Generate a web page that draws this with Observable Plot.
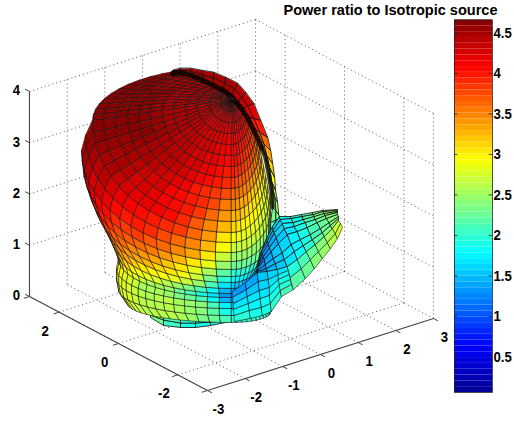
<!DOCTYPE html>
<html>
<head>
<meta charset="utf-8">
<script src="https://cdn.jsdelivr.net/npm/d3@7"></script>
<script src="https://cdn.jsdelivr.net/npm/@observablehq/plot@0.6"></script>
<style>
html,body{margin:0;padding:0;background:#fff}
#chart{position:relative;width:514px;height:421px;overflow:hidden}
#chart svg{position:absolute;top:0;background:transparent}
</style>
</head>
<body>
<div id="chart"></div>
<script>
const titleText = "Power ratio to Isotropic source";
const xTicks = [-3,-2,-1,0,1,2,3];
const yTicks = [-2,0,2];
const zTicks = [0,1,2,3,4];
const colorTicks = [0.5,1,1.5,2,2.5,3,3.5,4,4.5];
const colorRange = [0.06,4.66];

// Axis box: view-plane position of the data origin and of one data unit
const viewOrigin = [231,307];
const xUnit = [37.67,-12];
const yUnit = [-29.67,-15.67];
const zUnit = [0,-51.25];

// Latitude rings of the pattern, in view-plane units
const ringCenterX = 231;
const ringFront = [100,111,122,133,144,155,166,177,188,199,210,221,232,242,252,261,269,276,282,288,293,297,302,308,315,322];
const ringLeftX  = [232,220,209,197,185,173,162,150,138,127,115,103,92,85,81,83,88,94,102,110,116,118,116,116,118,127];
const ringLeftY  = [100,102,103,105,107,109,110,112,114,115,117,119,120,135,150,166,182,198,215,234,250,258,268,278,289,303];
const ringRightX = [232,238,243,246,249,252,255,257,259,261,263,265,267,269,270,270,268,264,260,258,258,260,263,266,268,270];
const ringRightY = [100,102,106,112,118,126,133,139,147,156,165,175,185,196,208,222,238,250,258,264,270,276,282,290,300,312];
const ringBackRise = [0,11,14,20,25,30,33,37,41,44,47,51,54];
const ringAngles = [246,240,234,228,222,216,210,204,198,192,186,
  180,174,168,162,156,150,144,138,132,126,120,114,108,102,96,90,
  82,74,66,58,50,42,34,26,18,10,0];

// Value (tenths) on the far side of rings 1..12
const ringBackValues = [
[43,43,43,43,43,43,43,43,43,43,43],
[44,44,44,44,44,44,44,44,44,44,44],
[44,44,44,44,44,44,44,44,44,44,44],
[45,45,45,45,45,45,45,45,45,45,45],
[45,45,45,45,45,45,45,45,45,45,45],
[45,45,45,45,45,45,45,45,45,45,45],
[45,45,45,45,45,46,46,46,46,46,46],
[45,45,45,45,45,46,46,46,46,46,46],
[45,45,45,45,46,46,46,46,46,46,46],
[45,45,45,46,46,46,46,46,46,46,46],
[45,45,46,46,46,46,46,46,46,46,46],
[45,45,46,46,46,46,46,46,46,46,46]];

// Value (tenths) on the near side of rings 1..25
const ringFrontValues = [
[43,43,43,43,43,43,43,43,43,43,43,42,42,42,42,42,42,42,42,42,41,41,41,41,41,41,41],
[44,44,44,44,44,44,44,43,43,43,43,43,43,42,42,42,42,42,42,42,41,41,41,41,41,41,41],
[44,44,44,44,44,44,44,43,43,43,43,43,43,42,42,42,42,41,41,41,41,41,40,40,40,40,40],
[45,45,45,45,45,44,44,44,44,43,43,43,42,42,41,41,41,41,40,40,40,40,39,39,39,39,39],
[45,45,45,45,45,44,44,44,44,43,43,43,42,42,41,41,41,40,40,40,39,39,39,38,38,38,38],
[45,45,45,45,45,44,44,44,43,43,43,42,42,41,41,40,40,40,39,38,38,38,38,37,37,37,37],
[46,46,46,46,45,45,45,44,44,43,43,42,41,40,40,39,39,38,38,37,37,37,37,36,36,36,36],
[46,46,46,46,45,45,44,44,43,43,42,41,40,40,39,38,37,37,36,36,35,35,35,34,34,34,34],
[46,46,46,46,45,45,44,43,43,42,41,40,39,38,37,36,35,35,34,34,33,33,33,32,32,32,32],
[46,46,46,45,45,44,44,43,43,42,41,41,40,39,36,34,33,33,32,32,31,31,31,30,30,30,30],
[46,46,46,45,45,44,43,42,42,42,41,40,38,37,34,32,32,31,31,30,30,30,29,29,29,29,29],
[46,46,46,45,45,44,43,42,42,41,40,40,38,36,33,30,30,29,29,29,29,29,28,28,28,28,28],
[45,45,45,44,43,43,42,41,40,40,39,38,36,35,32,28,28,28,28,27,27,27,27,27,27,27,27],
[44,44,44,43,42,42,41,39,39,39,37,36,35,33,30,26,26,26,26,26,26,26,26,26,26,26,26],
[43,43,43,42,41,41,39,38,38,37,36,35,33,31,28,24,24,24,24,24,24,24,24,24,24,24,24],
[41,41,41,40,39,38,37,36,35,35,33,32,30,28,25,21,21,21,21,21,21,22,22,22,22,22,22],
[40,40,40,39,38,37,36,35,34,33,32,31,29,26,23,19,19,19,19,19,19,19,19,19,19,19,19],
[38,38,38,37,36,35,34,32,32,31,29,29,27,25,20,16,16,16,16,15,15,15,15,15,15,15,15],
[35,35,35,34,33,32,31,30,29,28,27,27,25,22,18,14,14,14,14,13,13,13,13,13,13,13,13],
[32,32,32,31,30,29,28,27,26,26,24,22,20,18,15,12,12,12,12,13,13,13,13,13,13,13,13],
[30,30,30,29,28,28,27,25,25,25,23,21,20,18,15,12,12,13,13,13,13,13,14,14,14,14,14],
[29,29,29,28,28,27,26,25,26,26,25,25,24,22,18,14,14,14,15,15,15,15,16,16,16,16,16],
[29,29,29,28,28,27,27,26,26,27,26,26,25,24,20,17,17,17,17,18,18,18,18,18,18,18,18],
[28,28,28,28,27,27,26,26,26,26,26,25,24,23,21,19,19,19,19,20,20,20,20,20,20,20,20],
[28,28,28,28,27,27,27,26,26,26,26,25,24,23,22,21,21,21,21,21,21,21,21,21,21,21,21]];

// Thin strip behind the crest of the lobe
const crestX = [
[172,180,190,201,213,225,237,245,253,260,267,270,272,274,275,277,278,280,272],
[172,180,190,202,213,224,234,241,247,253,259,263,266,269,271,274,275,275,270],
[172,180,191,203,213,223,231,237,242,247,252,257,261,265,268,271,272,270,268]];
const crestY = [
[70,68,68,70,72,77,83,92,103,120,137,150,163,177,190,202,214,218,228],
[71,70,71,75,78,83,89,97,106,118,132,143,155,167,181,196,210,220,232],
[73,72,75,80,85,90,96,103,110,117,127,137,147,157,172,190,207,222,238]];
const crestRowValues = [45,45,45,45,45,45,44,44,43,41,38,35,32,30,28,26,24,22,20];
const crestValues = [crestRowValues,crestRowValues,crestRowValues];

// Underside sliver
const sliverX = [
[150,163,180,195,210,225,240],[150,163,180,195,210,225,240],[150,163,180,195,210,225,240]];
const sliverY = [
[312,316,318,319,319,319,318],[315,320,323,323,322,321,319],[317,325,327,327,325,322,320]];
const sliverValues = [
[26,23,20,19,19,19,20],[25,22,20,19,19,19,20],[24,21,19,19,19,19,20]];

// Fan of rows running from the valley to the side lobe's top edge
const fanX = [
[257,257,257,257,257,257,257,257],[261,261,262,263,264,265,266,267],[266,267,268,269,271,273,275,277],
[272,273,274,276,278,282,284,287],[279,280,282,284,287,291,294,297],[290,291,293,294,297,300,303,306],
[301,302,303,305,307,310,312,315],[312,313,314,315,317,320,322,324],[322,323,324,325,326,329,330,332],
[337,337,337,337,337,338,338,338]];
const fanY = [
[265,265,266,267,268,270,271,272],[250,251,253,256,259,264,268,271],[238,240,243,247,251,258,263,269],
[226,229,232,237,243,252,259,266],[216,219,223,228,234,244,251,259],[216,218,222,226,231,239,245,251],
[214,216,219,222,227,234,239,244],[212,214,216,219,222,228,232,236],[210,211,213,215,218,222,225,228],
[209,210,211,212,214,216,218,220]];
const fanValues = [
[12,12,12,12,12,13,13,13],[14,13,13,13,13,14,14,14],[14,14,14,14,14,15,15,15],[15,15,15,15,15,16,16,16],
[17,17,17,16,16,17,17,18],[19,19,18,18,18,18,18,19],[21,20,20,20,20,20,20,21],[24,23,23,22,22,22,22,23],
[25,25,24,24,23,23,24,25],[26,26,25,25,25,25,25,26]];

// Belt under the valley
const beltX = [
[232,232,233,233,234,234],[245,246,247,248,249,250],[257,258,259,260,261,262],
[267,268,269,269,270,271],[277,278,278,279,280,281],[287,288,289,290,291,293]];
const beltY = [
[291,297,303,309,315,321],[282,289,296,303,310,318],[272,281,290,298,307,315],
[271,279,287,295,303,311],[269,274,279,284,290,296],[266,270,274,279,284,289]];
const beltValues = [
[12,14,16,18,19,20],[13,14,16,17,19,20],[14,15,16,17,18,19],
[15,16,17,18,19,20],[16,17,18,19,20,21],[17,18,19,20,21,21]];

// Outer band of the side lobe
const rimX = [[287,290,293],[297,301,305],[306,310,314],[315,318,322],[324,327,330],[332,335,337],[338,340,342]];
const rimY = [[266,277,289],[259,268,278],[251,259,268],[244,251,258],[236,242,248],[228,233,238],[220,223,227]];
const rimValues = [[18,20,22],[20,21,23],[21,23,24],[23,24,25],[25,25,26],[26,27,27],[26,28,29]];

// Jet colormap
const jetPositions = [0,0.125,0.375,0.625,0.875,1];
const jetColors = ["#00008f","#0000ff","#00ffff","#ffff00","#ff0000","#800000"];
const levelCount = 64;

const [cMin,cMax] = colorRange;
const colorScale = {
  type:"linear", clamp:true, interpolate:"rgb",
  domain: jetPositions.map(t=>cMin+t*(cMax-cMin)), range: jetColors
};
const quantize = v => {
  const k = Math.min(levelCount-1,Math.max(0,Math.floor((v-cMin)/(cMax-cMin)*levelCount)));
  return cMin+(k+0.5)*(cMax-cMin)/levelCount;
};

const project = (x,y,z)=>[
  viewOrigin[0]+x*xUnit[0]+y*yUnit[0]+z*zUnit[0],
  viewOrigin[1]+x*xUnit[1]+y*yUnit[1]+z*zUnit[1]];

// Surface cells, layer by layer from back to front
let cellId = 0;
function addCell(out,p,values){
  const v = quantize(d3.mean(values)/10);
  const id = cellId++;
  for(const q of p) out.push({x:q[0],y:q[1],cell:id,value:v});
}
function addGrid(out,gx,gy,gv){
  for(let a=0;a<gx.length-1;a++) for(let b=0;b<gx[a].length-1;b++){
    addCell(out,[[gx[a][b],gy[a][b]],[gx[a+1][b],gy[a+1][b]],[gx[a+1][b+1],gy[a+1][b+1]],[gx[a][b+1],gy[a][b+1]]],
      [gv[a][b],gv[a+1][b],gv[a+1][b+1],gv[a][b+1]]);
  }
}
function ringPoint(i,deg){
  const a = deg*Math.PI/180, c = Math.cos(a), s = Math.sin(a);
  const x = c<0 ? ringCenterX+(ringLeftX[i]-ringCenterX)*(-c) : ringCenterX+(ringRightX[i]-ringCenterX)*c;
  const side = c<0 ? ringLeftY[i] : ringRightY[i];
  const y = s>=0 ? side+(ringFront[i]-side)*s : side-ringBackRise[i]*(-s);
  return [x,y];
}
function ringValue(i,j){
  const r = Math.max(i,1)-1;
  const back = ringBackValues[0].length;
  return j<back ? ringBackValues[r][j] : ringFrontValues[r][j-back];
}
const crestCells = [], ringCells = [], fanCells = [], beltCells = [];
addGrid(crestCells,crestX,crestY,crestValues);
addGrid(crestCells,sliverX,sliverY,sliverValues);
const backCols = ringBackValues[0].length;
for(let i=ringFront.length-1;i>=1;i--){
  for(let j=0;j<ringAngles.length-1;j++){
    if(i>12 && j<backCols) continue;
    addCell(ringCells,[ringPoint(i-1,ringAngles[j]),ringPoint(i-1,ringAngles[j+1]),ringPoint(i,ringAngles[j+1]),ringPoint(i,ringAngles[j])],
      [ringValue(i-1,j),ringValue(i-1,j+1),ringValue(i,j+1),ringValue(i,j)]);
  }
}
addGrid(fanCells,fanX,fanY,fanValues);
addGrid(beltCells,beltX,beltY,beltValues);
addGrid(beltCells,rimX,rimY,rimValues);

const crest = crestX[2].map((x,k)=>({x,y:crestY[2][k]}));

// Axis box
const seg = (a,b)=>{const p=project(...a),q=project(...b);return {x1:p[0],y1:p[1],x2:q[0],y2:q[1]};};
const grid = [];
for(const x of xTicks){
  grid.push(seg([x,-3,0],[x,3,0]));
  if(x>-3) grid.push(seg([x,3,0],[x,3,4]));
}
for(const y of yTicks){
  grid.push(seg([-3,y,0],[3,y,0]));
  grid.push(seg([3,y,0],[3,y,4]));
}
grid.push(seg([3,-3,0],[3,-3,4]));
for(const z of zTicks.slice(1)){
  grid.push(seg([-3,3,z],[3,3,z]));
  grid.push(seg([3,3,z],[3,-3,z]));
}
const axes = [seg([-3,3,0],[-3,-3,0]),seg([-3,-3,0],[3,-3,0]),seg([-3,3,0],[-3,3,4])];
const tickMarks = [
  ...xTicks.map(x=>seg([x,-3,0],[x,-3.15,0])),
  ...yTicks.map(y=>seg([-3,y,0],[-3.15,y,0])),
  ...[-3,3].map(y=>seg([-3,y,0],[-3.15,y,0])),
  ...zTicks.map(z=>seg([-3,3,z],[-3,3.15,z]))
];
const label = (p,text)=>{const q=project(...p);return {x:q[0],y:q[1],text};};
const labels = [
  ...xTicks.map(x=>label([x,-3.37,-0.26],String(x))),
  ...yTicks.map(y=>label([-3.37,y,-0.28],String(y))),
  ...zTicks.map(z=>label([-3,3.44,z-0.115],String(z)))
];
const labelFont = "'Liberation Sans',Arial,sans-serif";
const cellMark = (cells,strokeWidth)=>Plot.line(cells,{x:"x",y:"y",z:"cell",fill:"value",stroke:"#161616",strokeWidth,strokeOpacity:0.85,curve:"linear-closed"});

const main = Plot.plot({
  width:514,height:421,margin:0,
  style:{fontFamily:labelFont,background:"transparent"},
  x:{domain:[0,514],range:[0,514],axis:null},
  y:{domain:[0,421],range:[0,421],axis:null},
  color:colorScale,
  marks:[
    Plot.link(grid,{x1:"x1",y1:"y1",x2:"x2",y2:"y2",stroke:"#333",strokeWidth:1,strokeDasharray:"1 3",strokeOpacity:0.8}),
    Plot.link(axes,{x1:"x1",y1:"y1",x2:"x2",y2:"y2",stroke:"#444",strokeWidth:1.1}),
    Plot.link(tickMarks,{x1:"x1",y1:"y1",x2:"x2",y2:"y2",stroke:"#444",strokeWidth:1}),
    cellMark(crestCells,1),
    cellMark(ringCells,0.7),
    cellMark(fanCells,1),
    cellMark(beltCells,0.7),
    Plot.line(crest.slice(0,13),{x:"x",y:"y",stroke:"#0a0000",strokeWidth:5,strokeOpacity:0.85,strokeDasharray:"2 0.7"}),
    Plot.line(crest.slice(12,17),{x:"x",y:"y",stroke:"#0a0a00",strokeWidth:4.5,strokeOpacity:0.8,strokeDasharray:"1 1.4"}),
    Plot.text(labels,{x:"x",y:"y",text:"text",fontSize:15,fontWeight:"bold",fill:"#000"}),
    Plot.text([titleText],{x:[283],y:[10],text:d=>d,textAnchor:"start",fontSize:14.5,fontWeight:"bold",fill:"#000"})
  ]
});
main.style.left = "0px";

// Colorbar, drawn with its own value axis
const levelEdges = d3.range(levelCount).map(k=>({
  y1:cMin+k*(cMax-cMin)/levelCount,
  y2:cMin+(k+1)*(cMax-cMin)/levelCount,
  value:cMin+(k+0.5)*(cMax-cMin)/levelCount}));
const bar = Plot.plot({
  width:60,height:421,marginLeft:0,marginRight:22,marginTop:19.5,marginBottom:29,
  style:{fontFamily:labelFont,background:"transparent",overflow:"visible"},
  x:{domain:[0,1],axis:null},
  y:{domain:colorRange,axis:null},
  color:colorScale,
  marks:[
    Plot.rectY(levelEdges,{x1:0,x2:1,y1:"y1",y2:"y2",fill:"value"}),
    Plot.frame({stroke:"#222",strokeWidth:0.8}),
    Plot.ruleY(colorTicks,{x1:0,x2:0.09,stroke:"#222",strokeWidth:0.8}),
    Plot.ruleY(colorTicks,{x1:0.91,x2:1,stroke:"#222",strokeWidth:0.8}),
    Plot.axisY(colorTicks,{anchor:"right",tickSize:0,tickPadding:1,tickFormat:d=>String(d),label:null,fontSize:15,fontWeight:"bold",fill:"#000"})
  ]
});
bar.style.left = "454px";
const chart = document.getElementById("chart");
chart.append(main,bar);

// The reference uses a condensed bold face: condense the glyphs to match
const titleWidth = 214, labelCondense = 0.88;
for(const t of chart.querySelectorAll("text")){
  const w = t.textContent===titleText ? titleWidth : t.getComputedTextLength()*labelCondense;
  t.setAttribute("textLength",w);
  t.setAttribute("lengthAdjust","spacingAndGlyphs");
}
</script>
</body>
</html>
